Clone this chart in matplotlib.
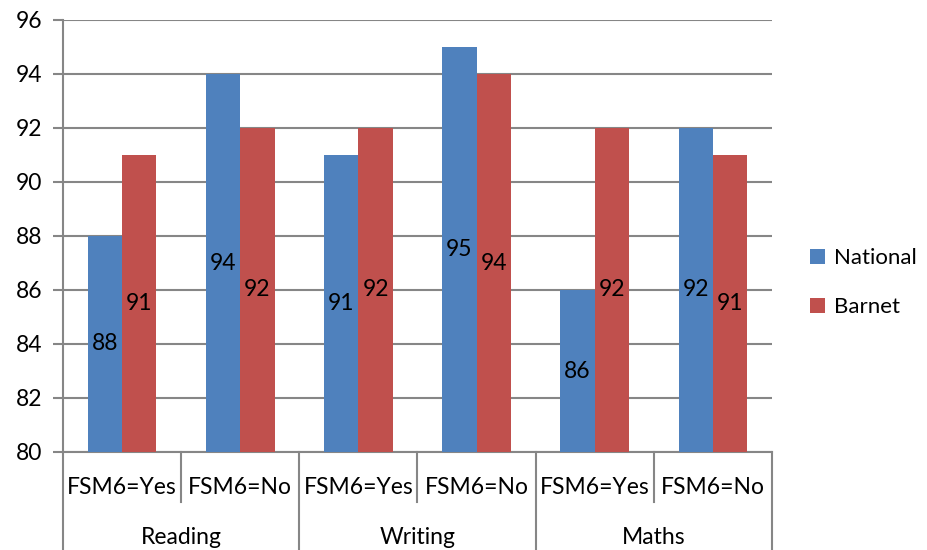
import matplotlib.pyplot as plt
import numpy as np

# data
subjects = ["Reading", "Writing", "Maths"]
fsm = ["FSM6=Yes", "FSM6=No"]
national = [88, 94, 91, 95, 86, 92]
barnet = [91, 92, 92, 94, 92, 91]
series_names = ["National", "Barnet"]
colors = ["#4F81BD", "#C0504D"]

plt.rcParams['font.family'] = ['Lato', 'DejaVu Sans']
fs = 16.5

fig = plt.figure(figsize=(9.28, 5.5), dpi=100)
ax = fig.add_axes([63/928, 1 - 452/550, (772 - 63)/928, (452 - 20)/550])

x = np.arange(len(national))
w = 0.29
b1 = ax.bar(x - w/2, np.array(national) - 80, w, bottom=80, color=colors[0], label=series_names[0], zorder=3)
b2 = ax.bar(x + w/2, np.array(barnet) - 80, w, bottom=80, color=colors[1], label=series_names[1], zorder=3)

# value labels in the middle of bars
for bars, vals in ((b1, national), (b2, barnet)):
    for r, v in zip(bars, vals):
        ax.text(r.get_x() + r.get_width()/2, (80 + v)/2, str(v),
                ha="center", va="center", fontsize=fs, zorder=4)

ax.set_xlim(-0.5, len(national) - 0.5)
ax.set_ylim(80, 96)
ax.set_yticks(range(80, 97, 2))
ax.yaxis.grid(True, color="#868686", linewidth=1.5, zorder=0)
ax.tick_params(axis="y", length=7, width=1.5, color="#868686", labelsize=fs, pad=8)
ax.set_xticks([])
for s in ["top", "right", "bottom"]:
    ax.spines[s].set_visible(False)
ax.spines["left"].set_color("#868686")
ax.spines["left"].set_linewidth(1.5)

# two-level category axis
trans = ax.get_xaxis_transform()
line_kw = dict(color="#868686", linewidth=1.5, transform=trans, clip_on=False)
ax.plot([-0.5, len(national) - 0.5], [0, 0], **line_kw)
y_sub = -50/432
y_main = -100/432
for i in range(len(national) + 1):
    xb = i - 0.5
    if i % 2 == 0:
        ax.plot([xb, xb], [0, y_main], **line_kw)
    else:
        ax.plot([xb, xb], [0, y_sub], **line_kw)
for i in range(len(national)):
    ax.text(i, -35/432, fsm[i % 2], ha="center", va="center", fontsize=fs, transform=trans)
for j, s in enumerate(subjects):
    ax.text(2*j + 0.5, -85/432, s, ha="center", va="center", fontsize=fs, transform=trans)

ax.legend(loc="center left", bbox_to_anchor=(1.032, 0.392), frameon=False, borderaxespad=0.3,
          fontsize=16, handlelength=0.65, handleheight=0.65, labelspacing=1.3, handletextpad=0.4)

fig.savefig("out.png", dpi=100)
